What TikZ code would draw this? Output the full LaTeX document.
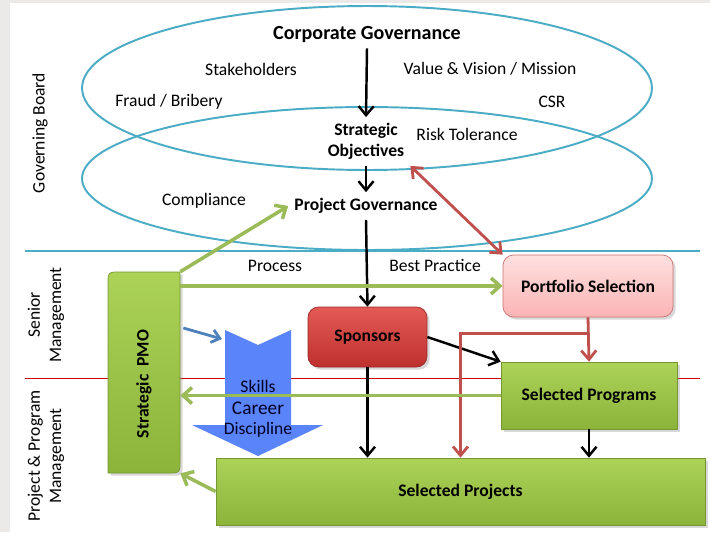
\documentclass[tikz,border=0pt]{standalone}
\usepackage{fontspec}
\setmainfont{Carlito}
\usetikzlibrary{arrows.meta,shadows}

\definecolor{ringblue}{RGB}{75,172,198}
\definecolor{pmgreen}{RGB}{155,187,89}
\definecolor{pmred}{RGB}{192,80,77}
\definecolor{pmblue}{RGB}{79,129,189}
\definecolor{chevblue}{RGB}{90,132,250}
\definecolor{framegray}{RGB}{236,234,232}
\definecolor{greentop}{RGB}{172,210,88}
\definecolor{greenbot}{RGB}{140,180,58}
\definecolor{greenedge}{RGB}{118,150,50}
\definecolor{redtop}{RGB}{228,90,85}
\definecolor{redbot}{RGB}{190,48,46}
\definecolor{pinktop}{RGB}{255,224,224}
\definecolor{pinkbot}{RGB}{250,180,180}

\begin{document}
\begin{tikzpicture}[x=0.02cm, y=-0.02cm,
  txt/.style={font=\fontsize{10}{12}\selectfont},
  btxt/.style={font=\fontsize{10}{12}\selectfont\bfseries},
  ring/.style={ringblue, line width=1.1pt},
  boxshadow/.style={drop shadow={shadow xshift=1.5pt, shadow yshift=-1.5pt, opacity=0.3}},
  greenbox/.style={btxt, draw=greenedge, top color=greentop, bottom color=greenbot, boxshadow},
  blackarrow/.style={-{Straight Barb[length=1.8mm,width=3mm]}, line width=1.4pt},
  greenarrow/.style={-{Straight Barb[length=1.8mm,width=3.2mm]}, pmgreen, line width=2pt},
  redarrow/.style={-{Straight Barb[length=1.8mm,width=3mm]}, pmred, line width=1.6pt},
]
\useasboundingbox (0,0) rectangle (710,532);

% Frame
\fill[framegray] (0,0) rectangle (710,532);
\fill[white] (10,3) rectangle (710,532);

% Governance rings
\draw[ring] (367,88) ellipse [x radius=5.7cm, y radius=1.64cm];
\draw[ring] (367,178.5) ellipse [x radius=5.7cm, y radius=1.43cm];

% Layer lines
\draw[ringblue, line width=0.6pt] (25,251) -- (700,251);
\draw[red!80!black, line width=0.4pt] (25,378) -- (700,378);

% Layer labels
\node[txt, rotate=90] (board) at (40,133) {Governing Board};
\node[txt, rotate=90, align=center] (senior) at (46,315) {Senior\\Management};
\node[txt, rotate=90, align=center] (ppm) at (46,456) {Project \& Program\\Management};

% Ring texts
\node[btxt, font=\fontsize{11.4}{13}\selectfont\bfseries] (corp) at (367,34) {Corporate Governance};
\node[txt] (stake) at (251,69) {Stakeholders};
\node[txt] (value) at (490,69) {Value \& Vision / Mission};
\node[txt] (fraud) at (169,102) {Fraud / Bribery};
\node[txt] (csr) at (552,102) {CSR};
\node[btxt, align=center] (strat) at (366,141.5) {Strategic\\Objectives};
\node[txt] (risk) at (467,134) {Risk Tolerance};
\node[txt] (compl) at (204,201) {Compliance};
\node[btxt] (projgov) at (366,206) {Project Governance};
\node[txt] (process) at (275,266) {Process};
\node[txt] (best) at (435,265) {Best Practice};

% Boxes
\node[minimum width=1.44cm, minimum height=4.02cm] (pmo) at (144,372.5) {};
% PMO: only top left and bottom right corners rounded
\shade[top color=greentop, bottom color=greenbot, draw=greenedge, boxshadow]
  (108,473) -- (108,283) .. controls (108,272) .. (119,272) -- (180,272)
  -- (180,462) .. controls (180,473) .. (169,473) -- cycle;
\node[btxt, rotate=90] (pmotext) at ([yshift=-0.23cm]pmo) {Strategic\ \ PMO};

\node[btxt, draw=pmred!80, top color=pinktop, bottom color=pinkbot, rounded corners=6pt,
  minimum width=3.4cm, minimum height=1.24cm, boxshadow] (port) at (588,286) {Portfolio Selection};
\node[btxt, draw=redbot!80!black, top color=redtop, bottom color=redbot, rounded corners=6pt,
  minimum width=2.38cm, minimum height=1.2cm, boxshadow] (spons) at (367.5,337) {Sponsors};
\node[greenbox, minimum width=3.52cm, minimum height=1.34cm] (progs) at (589,395.5) {Selected Programs};
\node[greenbox, minimum width=9.78cm, minimum height=1.34cm] (projs) at (460.5,491.5) {Selected Projects};

% Skills chevron
\fill[chevblue] (225,330) -- (258,345) -- (291,330) -- (291,425) -- (323,425)
  -- (258,456) -- (192,425) -- (225,425) -- cycle;
\coordinate (chev) at (222,339);
\node[txt, text=black!85!blue] (skills) at (258,386) {Skills};
\node[txt, font=\fontsize{11}{13}\selectfont, text=black!85!blue] (career) at (258,408) {Career};
\node[txt, text=black!85!blue] (disc) at (258,430) {Discipline};

% Governance flow
\draw[blackarrow] (corp.south) -- (strat.north);
\draw[blackarrow] (strat.south) -- (projgov.north);
\draw[blackarrow] (projgov.south) -- (spons.north);
\draw[blackarrow] (spons.south) -- (spons.south |- projs.north);
\draw[blackarrow] (spons.east) -- (progs.north west);
\draw[blackarrow] (progs.south) -- (progs.south |- projs.north);

% Portfolio links
\draw[redarrow, {Straight Barb[length=1.8mm,width=3mm]}-{Straight Barb[length=1.8mm,width=3mm]}]
  (strat.south east) -- (port.north west);
\coordinate (split) at ([yshift=-0.32cm]port.south);
\draw[redarrow] (port.south) -- (progs.north);
\draw[redarrow] (split) -| (projs.north);

% PMO links
\draw[greenarrow] (pmo.north east) -- (projgov.west);
\draw[greenarrow] (port.west -| pmo.east) -- (port.west);
\draw[greenarrow] (progs.west) -- (progs.west -| pmo.east);
\draw[greenarrow] (projs.west) -- (pmo.south east);
\draw[-{Straight Barb[length=1.6mm,width=2.6mm]}, pmblue, line width=1.6pt]
  ([xshift=0.06cm, yshift=0.89cm]pmo.east) -- (chev);
\end{tikzpicture}
\end{document}
